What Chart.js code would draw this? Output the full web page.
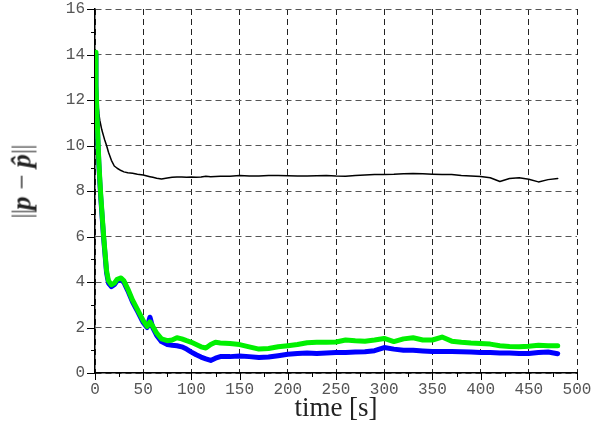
<!DOCTYPE html>
<html lang="en">
<head>
<meta charset="UTF-8">
<title>error norm</title>
<script src="https://cdn.jsdelivr.net/npm/chart.js"></script>
<style>
  body { margin: 0; background: #fff; }
  #wrap { position: relative; width: 594px; height: 425px; }
  #ytitle {
    position: absolute; left: 22px; top: 182px;
    transform: translate(-50%, -50%) rotate(-90deg);
    font-family: "Liberation Serif", serif; font-size: 27px; color: #222;
    white-space: nowrap;
  }
  #ytitle .bar { color: #555; font-weight: normal; letter-spacing: -1px; }
</style>
</head>
<body>
<div id="wrap">
  <canvas id="grafica" width="594" height="425"></canvas>
  <div id="ytitle"><span class="bar">||</span><b><i>p</i></b> − <b><i>p̂</i></b><span class="bar">||</span></div>
</div>
<script>
// time samples [s]
const times = [0, 1, 2, 3, 4, 5, 6, 7, 8, 9, 10,
  12, 14, 17, 20, 23, 27, 30, 34, 39, 44,
  50, 54, 57, 60, 64, 69,
  75, 80, 85, 90, 95, 100, 105, 110, 115, 120, 125, 130,
  140, 150, 160, 170, 180, 190, 200, 210, 220, 230, 240, 250, 260, 270, 280, 290,
  300, 310, 320, 330, 340, 350, 360, 370, 380, 390, 400, 410, 420, 430, 440, 450, 460, 470, 480];

const blackVals = [14.0, 13.1, 12.3, 11.8, 11.4, 11.1, 10.9, 10.7, 10.55, 10.4, 10.25,
  10.0, 9.7, 9.35, 9.1, 9.0, 8.9, 8.84, 8.8, 8.78, 8.74,
  8.7, 8.66, 8.63, 8.6, 8.56, 8.53,
  8.57, 8.6, 8.62, 8.62, 8.6, 8.62, 8.6, 8.62, 8.65, 8.63, 8.64, 8.65,
  8.65, 8.68, 8.66, 8.66, 8.68, 8.68, 8.67, 8.66, 8.66, 8.67, 8.68, 8.66, 8.65, 8.68, 8.7, 8.72,
  8.73, 8.74, 8.76, 8.77, 8.76, 8.74, 8.72, 8.72, 8.68, 8.66, 8.64, 8.58, 8.42, 8.55, 8.58, 8.52, 8.4, 8.5, 8.55];

const blueVals = [14.0, 12.6, 11.3, 10.2, 9.2, 8.4, 7.7, 7.1, 6.5, 5.9, 5.4,
  4.4, 3.95, 3.8, 3.88, 4.05, 4.12, 3.98, 3.62, 3.12, 2.72,
  2.22, 2.0, 2.45, 1.98, 1.65, 1.38,
  1.25, 1.22, 1.2, 1.15, 1.05, 0.92, 0.8, 0.7, 0.62, 0.55, 0.65, 0.72,
  0.72, 0.75, 0.72, 0.68, 0.7, 0.76, 0.82, 0.86, 0.88, 0.86, 0.88, 0.9, 0.9, 0.92, 0.93, 0.98,
  1.12, 1.05, 1.0, 1.0, 0.97, 0.94, 0.94, 0.94, 0.93, 0.92, 0.9, 0.9, 0.88, 0.88, 0.86, 0.86, 0.9, 0.92, 0.85];

const greenVals = [14.1, 12.7, 11.4, 10.3, 9.3, 8.5, 7.8, 7.2, 6.6, 6.0, 5.5,
  4.5, 4.05, 3.88, 3.95, 4.12, 4.18, 4.05, 3.7, 3.2, 2.8,
  2.3, 2.05, 2.25, 2.05, 1.75, 1.5,
  1.42, 1.45, 1.55, 1.5, 1.42, 1.35, 1.25, 1.15, 1.1, 1.25, 1.35, 1.32,
  1.3, 1.25, 1.15, 1.05, 1.08, 1.15, 1.2, 1.25, 1.33, 1.35, 1.35, 1.36, 1.45, 1.42, 1.4, 1.45,
  1.52, 1.38, 1.5, 1.55, 1.45, 1.45, 1.58, 1.4, 1.35, 1.32, 1.3, 1.27, 1.2, 1.17, 1.15, 1.18, 1.22, 1.2, 1.2];

const xLabels = [0, 50, 100, 150, 200, 250, 300, 350, 400, 450, 500];
const yLabels = [0, 2, 4, 6, 8, 10, 12, 14, 16];

const pts = vals => vals.map((v, i) => ({ x: times[i], y: v }));

// major / minor tick marks drawn outside the axes
const tickMarks = {
  id: "tickMarks",
  afterDraw(chart) {
    const { ctx, chartArea, scales } = chart;
    ctx.save();
    ctx.strokeStyle = "#000";
    ctx.lineWidth = 1;
    scales.x.ticks.forEach(t => {
      const px = Math.round(scales.x.getPixelForValue(t.value)) + 0.5;
      const len = xLabels.includes(t.value) ? 7 : 4;
      ctx.beginPath();
      ctx.moveTo(px, chartArea.bottom);
      ctx.lineTo(px, chartArea.bottom + len);
      ctx.stroke();
    });
    scales.y.ticks.forEach(t => {
      const py = Math.round(scales.y.getPixelForValue(t.value)) + 0.5;
      const len = yLabels.includes(t.value) ? 8 : 4;
      ctx.beginPath();
      ctx.moveTo(chartArea.left - len, py);
      ctx.lineTo(chartArea.left, py);
      ctx.stroke();
    });
    ctx.restore();
  }
};

const tickFont = { family: "'Liberation Mono', 'DejaVu Sans Mono', monospace", size: 16, lineHeight: 1 };

new Chart(document.getElementById("grafica"), {
  type: "line",
  data: {
    datasets: [
      { data: pts(greenVals), borderColor: "#00f000", borderWidth: 5, order: 0 },
      { data: pts(blueVals), borderColor: "#0000ff", borderWidth: 5, order: 1 },
      { data: pts(blackVals), borderColor: "#000", borderWidth: 1.5, order: 2 }
    ]
  },
  options: {
    responsive: false,
    animation: false,
    devicePixelRatio: 1,
    layout: { padding: { left: 0, right: 17, top: 9, bottom: 0 } },
    elements: {
      point: { radius: 0 },
      line: { tension: 0, borderJoinStyle: "round", borderCapStyle: "round" }
    },
    plugins: { legend: { display: false }, tooltip: { enabled: false } },
    scales: {
      x: {
        type: "linear", min: 0, max: 500,
        afterFit: s => { s.height = 52; s.paddingLeft = 0; s.paddingRight = 0; },
        ticks: {
          stepSize: 25, autoSkip: false, maxRotation: 0, padding: 9,
          font: tickFont, color: "#555",
          callback: v => xLabels.includes(v) ? v : ""
        },
        grid: {
          drawTicks: false, lineWidth: 1,
          color: c => xLabels.includes(c.tick.value) ? "#222" : "rgba(0,0,0,0)"
        },
        border: { display: true, color: "#000", width: 1.5, dash: [6, 4] },
        title: {
          display: true, text: "time [s]", color: "#222",
          font: { family: "'Liberation Serif', serif", size: 27 },
          padding: { top: 0, bottom: 0 }
        }
      },
      y: {
        min: 0, max: 16,
        afterFit: s => { s.width = 95; s.paddingTop = 0; s.paddingBottom = 0; },
        ticks: {
          stepSize: 1, autoSkip: false, padding: 10,
          font: tickFont, color: "#555",
          callback: v => yLabels.includes(v) ? v : ""
        },
        grid: {
          drawTicks: false, lineWidth: 1,
          color: c => yLabels.includes(c.tick.value) ? "#555" : "rgba(0,0,0,0)"
        },
        border: { display: true, color: "#000", width: 1.5, dash: [6, 4] }
      }
    }
  },
  plugins: [tickMarks]
});
</script>
</body>
</html>
